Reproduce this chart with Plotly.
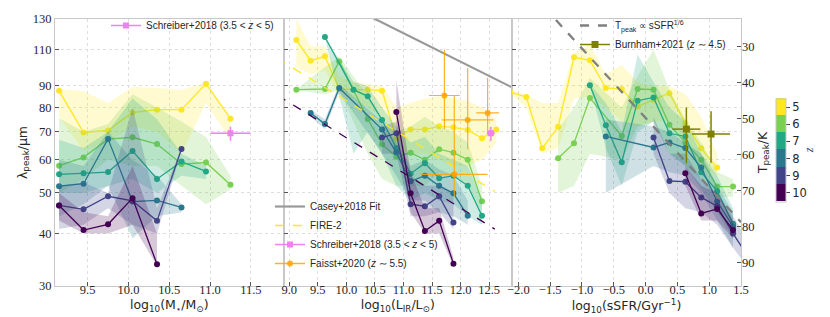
import math
import plotly.graph_objects as go

Z = [5, 6, 7, 8, 9, 10]
COLORS = {5: '#fde725', 6: '#7ad151', 7: '#22a884', 8: '#2a788e', 9: '#414487', 10: '#440154'}

# ---------------- Panel 1 : log10(M*/Msun) ----------------
MSTAR_X = {
    5: [9.15, 9.45, 9.75, 10.05, 10.35, 10.65, 10.95, 11.25],
    6: [9.15, 9.45, 9.75, 10.05, 10.35, 10.65, 10.95, 11.25],
    7: [9.15, 9.45, 9.75, 10.05, 10.35, 10.65, 10.95],
    8: [9.15, 9.45, 9.75, 10.05, 10.35, 10.65],
    9: [9.15, 9.45, 9.75, 10.05, 10.35, 10.65],
    10: [9.15, 9.45, 9.75, 10.05, 10.35],
}
MSTAR_LAM = {
    5: [87.7, 69.7, 70.5, 77.8, 79.0, 79.0, 91.1, 75.2],
    6: [58.1, 60.8, 67.2, 67.9, 65.4, 58.6, 59.1, 52.3],
    7: [55.4, 55.7, 56.1, 63.0, 54.0, 59.4, 56.3],
    8: [51.9, 52.6, 67.3, 47.7, 48.0, 46.2],
    9: [46.7, 45.7, 49.1, 47.9, 42.9, 63.7],
    10: [46.7, 40.8, 42.1, 48.6, 33.8],
}
MSTAR_HI = {
    5: [88.5, 87.5, 82, 89.5, 89, 88, 92, 76],
    6: [75.5, 70, 73, 86, 80, 74, 68, 55],
    7: [67, 64, 70, 84, 75, 62, 58],
    8: [60, 58, 70, 60, 55, 47],
    9: [52, 53, 50, 80, 46, 64],
    10: [50, 45, 44, 58, 40],
}
MSTAR_LO = {
    5: [76, 63, 66, 72, 70, 62, 82, 67],
    6: [50, 54, 60, 58, 58, 52, 47, 51],
    7: [50, 50, 52, 54, 50, 55, 54],
    8: [44, 47, 52, 39, 44, 45],
    9: [41, 42, 46, 42, 40, 63],
    10: [43, 40, 40, 42, 33.5],
}

# ---------------- Panel 2 : log10(L_IR/Lsun) ----------------
LIR_X = {
    5: [9.125, 9.375, 9.625, 9.875, 10.125, 10.375, 10.625, 10.875, 11.125, 11.375, 11.625, 11.875, 12.125, 12.375, 12.625],
    6: [9.125, 9.625, 9.875, 10.375, 10.625, 10.875, 11.125, 11.375, 11.625, 11.875, 12.125, 12.375],
    7: [9.625, 10.125, 10.375, 10.625, 10.875, 11.125, 11.375, 11.625, 11.875, 12.125, 12.375],
    8: [9.375, 9.625, 9.875, 10.625, 10.875, 11.125, 11.375, 11.625, 11.875, 12.125],
    9: [10.625, 10.875, 11.125, 11.375, 11.625, 11.875],
    10: [10.875, 11.125, 11.375, 11.625, 11.875],
}
LIR_LAM = {
    5: [115.8, 103.4, 105.9, 88.5, 88.2, 88.2, 87.7, 67.5, 70.9, 70.9, 72.1, 71.7, 70.7, 67.5, 70.9],
    6: [88.2, 88.5, 103.0, 75.1, 65.3, 61.0, 62.4, 60.0, 63.6, 62.4, 60.0, 47.8],
    7: [117.8, 88.2, 85.0, 74.7, 64.0, 55.6, 58.9, 54.2, 55.0, 52.0, 44.1],
    8: [77.6, 73.0, 89.0, 70.9, 62.5, 53.3, 55.0, 52.0, 49.9, 44.1],
    9: [67.8, 69.4, 47.0, 46.5, 49.1, 42.5],
    10: [78.0, 49.9, 40.6, 42.9, 33.9],
}
LIR_HI = {
    5: [130, 112, 112, 95, 92, 91, 90, 80, 82, 84, 85, 84, 83, 80, 75],
    6: [88.5, 100, 106, 85, 75, 70, 72, 76, 72, 70, 66, 52],
    7: [118, 92, 90, 80, 72, 66, 68, 62, 60, 58, 48],
    8: [79, 75, 91, 74, 66, 58, 60, 57, 55, 48],
    9: [72, 74, 55, 52, 52, 50],
    10: [93, 56, 46, 46, 35],
}
LIR_LO = {
    5: [100, 96, 98, 85, 84, 80, 76, 62, 62, 62, 60, 58, 58, 60, 66],
    6: [88, 86, 88, 62, 54, 52, 52, 52, 56, 55, 52, 45],
    7: [117, 62, 70, 62, 52, 48, 50, 48, 47, 44, 42],
    8: [76, 71, 87, 62, 55, 48, 48, 45, 44, 42],
    9: [62, 62, 44, 44, 45, 41],
    10: [70, 45, 40, 40, 33.5],
}

# ---------------- Panel 3 : log10(sSFR/Gyr^-1) ----------------
SSFR_X = {
    5: [-2.125, -1.875, -1.625, -1.375, -1.125, -0.875, -0.625, -0.375, -0.125, 0.125, 0.375, 0.625, 0.875, 1.125],
    6: [-1.375, -1.125, -0.875, -0.375, -0.125, 0.125, 0.375, 0.625, 0.875, 1.125, 1.375],
    7: [-0.875, -0.625, -0.375, -0.125, 0.125, 0.375, 0.625, 0.875, 1.125, 1.375],
    8: [-0.625, 0.125, 0.375, 0.625, 0.875, 1.125, 1.375],
    9: [0.125, 0.375, 0.625, 0.875, 1.125, 1.375, 1.625],
    10: [0.625, 0.875, 1.125, 1.375],
}
SSFR_LAM = {
    5: [87, 84.7, 63.9, 71.9, 105.3, 103.6, 89.0, 88.5, 80.4, 83.4, 86.5, 73.4, 63.9, 57.5],
    6: [60.5, 65.7, 84.2, 68.4, 88.5, 88.2, 72.7, 66.0, 60.0, 51.8, 51.8],
    7: [90.4, 72.5, 59.2, 83.0, 84.5, 69.4, 68.2, 56.0, 50.5, 42.2],
    8: [68.2, 64.2, 66.0, 64.0, 57.5, 47.7, 41.6],
    9: [67.8, 53.4, 53.2, 48.8, 46.5, 40.0, 35.0],
    10: [55.7, 44.7, 45.8, 40.8],
}
SSFR_HI = {
    5: [88, 86, 82, 82, 108, 113, 96, 101, 92, 90, 90, 86, 76, 62],
    6: [71, 80, 94, 80, 95, 110, 88, 75, 66, 56, 54],
    7: [91, 82, 70, 107, 92, 80, 74, 62, 55, 46],
    8: [75, 72, 70, 66, 62, 52, 45],
    9: [76, 62, 62, 54, 50, 44, 38],
    10: [58, 52, 50, 43],
}
SSFR_LO = {
    5: [86, 80, 62, 64, 84, 85, 80, 74, 72, 74, 74, 65, 58, 55],
    6: [50, 52, 62, 60, 72, 74, 62, 58, 54, 49, 49],
    7: [90, 64, 52, 70, 74, 62, 58, 51, 45, 39],
    8: [50, 58, 56, 55, 50, 43, 37],
    9: [62, 50, 46, 45, 42, 37, 33],
    10: [52, 43, 43, 39],
}

# ---------------- Reference data ----------------
SCHREIBER_M_X = [11.25]
SCHREIBER_L_X = [12.53]
SCHREIBER_LAM = [69.4]
SCHREIBER_XERR_M = [0.245]
SCHREIBER_XERR_L = [0.07]
SCHREIBER_YERR_UP = [2.5]
SCHREIBER_YERR_DN = [2.8]

FAISST_X = [11.717, 12.124, 12.473, 11.89]
FAISST_LAM = [85.4, 74.7, 77.6, 55.4]
FAISST_XERR = [0.27, 0.45, 0.2, 0.58]
FAISST_YERR_UP = [24.4, 24.6, 16.5, 30.0]
FAISST_YERR_DN = [14.4, 11.1, 8.6, 6.3]

BURNHAM_X = [0.641, 1.029]
BURNHAM_LAM = [71.0, 69.1]
BURNHAM_XERR = [0.22, 0.3]
BURNHAM_YERR_UP = [9.0, 9.2]
BURNHAM_YERR_DN = [12.1, 10.1]

CASEY_X = [10.4, 12.9]
CASEY_LAM = [132.1, 89.3]
FIRE_X = [8.8, 12.6]
FIRE_LAM_Z5 = [104.5, 50.4]
FIRE_LAM_Z10 = [85.4, 41.0]
TSSFR_X = [-1.6, 1.5]
TSSFR_LAM = [139.0, 42.6]

Y_TICKS = [30, 40, 50, 60, 70, 80, 90, 110, 130]
T_TICKS = [30, 40, 50, 60, 70, 80, 90]
WIEN = 2898.0


def rgba(h, a):
    h = h.lstrip('#')
    return 'rgba(%d,%d,%d,%.3f)' % (int(h[0:2], 16), int(h[2:4], 16), int(h[4:6], 16), a)


fig = go.Figure()

panels = [
    (MSTAR_X, MSTAR_LAM, MSTAR_HI, MSTAR_LO, 'x', 'y'),
    (LIR_X, LIR_LAM, LIR_HI, LIR_LO, 'x2', 'y2'),
    (SSFR_X, SSFR_LAM, SSFR_HI, SSFR_LO, 'x3', 'y3'),
]
for X, LAM, HI, LO, xa, ya in panels:
    for z in Z:
        c = COLORS[z]
        fig.add_trace(go.Scatter(
            x=X[z] + X[z][::-1], y=HI[z] + LO[z][::-1], fill='toself',
            fillcolor=rgba(c, 0.22), line=dict(width=0), mode='lines',
            hoverinfo='skip', showlegend=False, xaxis=xa, yaxis=ya))
        fig.add_trace(go.Scatter(
            x=X[z], y=LAM[z], mode='lines+markers',
            line=dict(color=c, width=1.3), marker=dict(color=c, size=6),
            showlegend=False, xaxis=xa, yaxis=ya))

VIOLET = '#ee82ee'
ORANGE = 'rgba(255,165,0,0.85)'
OLIVE = '#808000'
GREY = '#999999'

# Casey fit and FIRE-2 lines (panel 2)
fig.add_trace(go.Scatter(x=CASEY_X, y=CASEY_LAM, mode='lines', line=dict(color=GREY, width=2.2),
                         showlegend=False, xaxis='x2', yaxis='y2'))
fig.add_trace(go.Scatter(x=FIRE_X, y=FIRE_LAM_Z5, mode='lines', line=dict(color=COLORS[5], width=1.3, dash='dash'),
                         showlegend=False, xaxis='x2', yaxis='y2'))
fig.add_trace(go.Scatter(x=FIRE_X, y=FIRE_LAM_Z10, mode='lines', line=dict(color=COLORS[10], width=1.3, dash='dash'),
                         showlegend=False, xaxis='x2', yaxis='y2'))

# Faisst
fig.add_trace(go.Scatter(x=FAISST_X, y=FAISST_LAM, mode='markers',
                         marker=dict(color=ORANGE, size=6),
                         error_x=dict(type='data', array=FAISST_XERR, color=ORANGE, thickness=1.2, width=0),
                         error_y=dict(type='data', array=FAISST_YERR_UP, arrayminus=FAISST_YERR_DN,
                                      color=ORANGE, thickness=1.2, width=0),
                         showlegend=False, xaxis='x2', yaxis='y2'))
# Schreiber (panels 1 and 2)
for sx, sxe, xa, ya in [(SCHREIBER_M_X, SCHREIBER_XERR_M, 'x', 'y'), (SCHREIBER_L_X, SCHREIBER_XERR_L, 'x2', 'y2')]:
    fig.add_trace(go.Scatter(x=sx, y=SCHREIBER_LAM, mode='markers',
                             marker=dict(color=VIOLET, size=6, symbol='square'),
                             error_x=dict(type='data', array=sxe, color=VIOLET, thickness=1.5, width=0),
                             error_y=dict(type='data', array=SCHREIBER_YERR_UP, arrayminus=SCHREIBER_YERR_DN,
                                          color=VIOLET, thickness=1.5, width=0),
                             showlegend=False, xaxis=xa, yaxis=ya))

# Panel 3 : T ~ sSFR^(1/6) and Burnham
fig.add_trace(go.Scatter(x=TSSFR_X, y=TSSFR_LAM, mode='lines', line=dict(color='#808080', width=2.3, dash='dash'),
                         showlegend=False, xaxis='x3', yaxis='y3'))
fig.add_trace(go.Scatter(x=BURNHAM_X, y=BURNHAM_LAM, mode='markers',
                         marker=dict(color=OLIVE, size=7, symbol='square'),
                         error_x=dict(type='data', array=BURNHAM_XERR, color=OLIVE, thickness=1.5, width=0),
                         error_y=dict(type='data', array=BURNHAM_YERR_UP, arrayminus=BURNHAM_YERR_DN,
                                      color=OLIVE, thickness=1.5, width=0),
                         showlegend=False, xaxis='x3', yaxis='y3'))

# secondary axis anchor trace
fig.add_trace(go.Scatter(x=[None], y=[None], xaxis='x3', yaxis='y4', showlegend=False, hoverinfo='skip'))


# legend-only entries
def leg(name, color, legend, dash=None, width=1.5, symbol=None, msize=6):
    mode = 'lines+markers' if symbol else 'lines'
    fig.add_trace(go.Scatter(x=[None], y=[None], mode=mode, name=name, legend=legend,
                             line=dict(color=color, width=width, dash=dash),
                             marker=dict(color=color, size=msize, symbol=symbol or 'circle'),
                             xaxis='x', yaxis='y'))


leg('Schreiber+2018 (3.5 &lt; <i>z</i> &lt; 5)', VIOLET, 'legend', symbol='square')
leg('Casey+2018 Fit', GREY, 'legend2', width=2.2)
leg('FIRE-2', COLORS[5], 'legend2', dash='dash', width=1.3)
leg('Schreiber+2018 (3.5 &lt; <i>z</i> &lt; 5)', VIOLET, 'legend2', symbol='square')
leg('Faisst+2020 (<i>z</i> ∼ 5.5)', ORANGE, 'legend2', symbol='circle')
leg('T<sub>peak</sub> ∝ sSFR<sup>1/6</sup>', '#808080', 'legend3', dash='dash', width=2.3)
leg('Burnham+2021 (<i>z</i> ∼ 4.5)', OLIVE, 'legend3', symbol='square', msize=7)

L, R, T, B = 47, 733, 11, 278
W = R - L
H = B - T
d1 = (275.5 - L) / W
d2 = (504 - L) / W

# colorbar
cs = []
for i, z in enumerate(Z[::-1]):
    cs.append([i / 6.0, COLORS[z]])
    cs.append([(i + 1) / 6.0, COLORS[z]])
fig.add_trace(go.Scatter(x=[None], y=[None], mode='markers', showlegend=False, hoverinfo='skip',
                         marker=dict(color=[-5], cmin=-10.5, cmax=-4.5, colorscale=cs, showscale=True,
                                     colorbar=dict(x=(768 - L) / W, xanchor='left', xpad=0, ypad=0,
                                                   y=(B - 142) / H, yanchor='middle',
                                                   len=103 / H, lenmode='fraction', thickness=10,
                                                   outlinewidth=1, outlinecolor='#c8c8c8',
                                                   tickvals=[-z for z in Z], ticktext=[str(z) for z in Z],
                                                   ticks='outside', ticklen=4, tickcolor='#444',
                                                   tickfont=dict(family='DejaVu Sans', size=11.5, color='#262626'),
                                                   title=dict(text='<i>z</i>', side='right',
                                                              font=dict(family='Liberation Serif', size=12)))),
                         xaxis='x', yaxis='y'))

tickfont = dict(family='Liberation Serif', size=12.5, color='#262626')
titlefont = dict(family='DejaVu Sans', size=12.5, color='#262626')
legfont = dict(family='Liberation Sans', size=10, color='#262626')
common = dict(showline=True, linecolor='#c8c8c8', linewidth=1.2, mirror=True,
              ticks='inside', ticklen=4, tickcolor='#555555', tickwidth=1,
              showgrid=True, gridcolor='#dedede', griddash='dot', gridwidth=0.8,
              zeroline=False, tickfont=tickfont)


def fmt(v):
    s = '%.1f' % v
    return s.replace('-', '−')


x1t = [9.5, 10.0, 10.5, 11.0, 11.5]
x2t = [9.0, 9.5, 10.0, 10.5, 11.0, 11.5, 12.0, 12.5]
x3t = [-2.0, -1.5, -1.0, -0.5, 0.0, 0.5, 1.0, 1.5]

xcommon = dict(common, ticklabelstandoff=-8)

ylog = [math.log10(30), math.log10(130)]
fig.update_layout(
    width=830, height=317, margin=dict(l=L, r=830 - R, t=T, b=317 - B, autoexpand=False),
    plot_bgcolor='white', paper_bgcolor='white',
    xaxis=dict(domain=[0, d1], range=[9.1, 11.9], tickvals=x1t, ticktext=[fmt(v) for v in x1t], anchor='y',
               title=dict(text='log<sub>10</sub>(M<sub>⋆</sub>/M<sub>⊙</sub>)', font=titlefont, standoff=0), **xcommon),
    xaxis2=dict(domain=[d1, d2], range=[8.9, 12.9], tickvals=x2t, ticktext=[fmt(v) for v in x2t], anchor='y2',
                title=dict(text='log<sub>10</sub>(L<sub>IR</sub>/L<sub>⊙</sub>)', font=titlefont, standoff=0), **xcommon),
    xaxis3=dict(domain=[d2, 1], range=[-2.1, 1.5], tickvals=x3t, ticktext=[fmt(v) for v in x3t], anchor='y3',
                title=dict(text='log<sub>10</sub>(sSFR/Gyr<sup>−1</sup>)', font=titlefont, standoff=0), **xcommon),
    yaxis=dict(type='log', range=ylog, autorange=False, tickvals=Y_TICKS, ticktext=[str(v) for v in Y_TICKS],
               anchor='x', title=dict(text='λ<sub>peak</sub>/μm', font=titlefont, standoff=2), **common),
    yaxis2=dict(type='log', range=ylog, autorange=False, tickvals=Y_TICKS, showticklabels=False, anchor='x2',
                matches='y', **common),
    yaxis3=dict(type='log', range=ylog, autorange=False, tickvals=Y_TICKS, showticklabels=False, anchor='x3',
                matches='y', **common),
    yaxis4=dict(overlaying='y3', side='right', anchor='x3', range=[WIEN / 30, WIEN / 130], autorange=False,
                type='linear', tickvals=T_TICKS, ticks='inside', ticklen=4, tickcolor='#555555', showgrid=False,
                zeroline=False, showline=False, tickfont=tickfont,
                title=dict(text='T<sub>peak</sub>/K', font=titlefont, standoff=2)),
    legend=dict(x=(98 - L) / W, y=(B - 3) / H, xanchor='left', yanchor='top',
                bgcolor='rgba(0,0,0,0)', font=legfont, itemwidth=30),
    legend2=dict(x=(262 - L) / W, y=(B - 270) / H, xanchor='left', yanchor='bottom',
                 bgcolor='rgba(0,0,0,0)', font=legfont, itemwidth=30),
    legend3=dict(x=(567 - L) / W, y=(B - 3) / H, xanchor='left', yanchor='top',
                 bgcolor='rgba(0,0,0,0)', font=legfont, itemwidth=30),
)

fig.write_html('out.html')
